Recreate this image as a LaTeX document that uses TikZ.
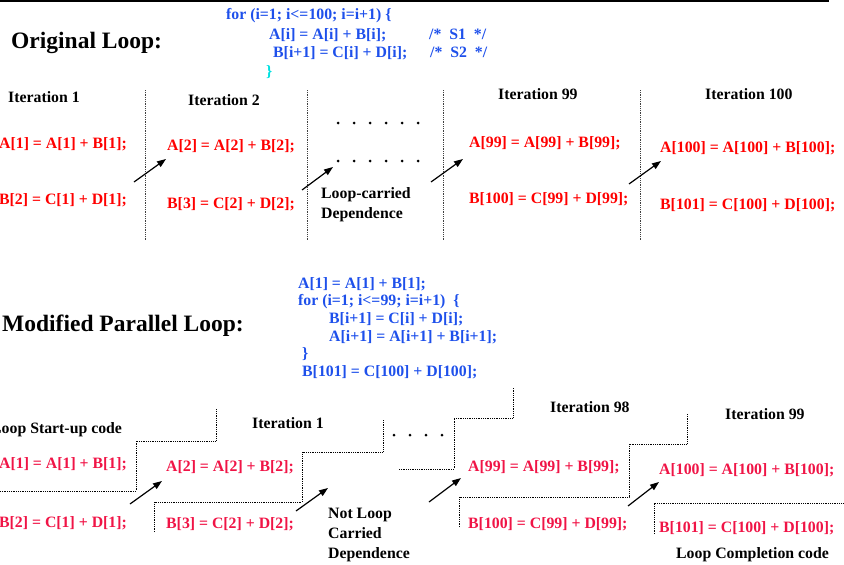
\documentclass[tikz,border=0pt]{standalone}
\usepackage{fontspec}
\setmainfont{Liberation Serif}
\usetikzlibrary{arrows.meta}
\definecolor{codeblue}{RGB}{30,80,235}
\definecolor{codecyan}{RGB}{0,225,225}
\definecolor{stmred}{RGB}{255,0,0}
\definecolor{stmredb}{RGB}{240,20,70}
\begin{document}
\begin{tikzpicture}[x=1pt,y=-1pt,
  lbl/.style={inner sep=0pt, anchor=base west, font=\fontsize{15.8}{18}\selectfont\bfseries},
  titlelbl/.style={lbl, font=\fontsize{23.5}{28}\selectfont\bfseries},
  code/.style={lbl, text=codeblue},
  stm/.style={lbl, text=stmred},
  stmb/.style={lbl, text=stmredb},
  dep/.style={-{Triangle[length=9pt,width=6.5pt]}, line width=1.2pt},
  sepline/.style={line width=0.9pt, dash pattern=on 0.9pt off 0.9pt, draw=black!75},
  stair/.style={line width=0.9pt, dash pattern=on 0.9pt off 0.9pt}]
\useasboundingbox (0,0) rectangle (844,565);
% top rule
\coordinate (tl) at (0,1); \coordinate (tr) at (829,1);
\draw[line width=1.5pt] (tl) -- (tr);

% ---------- Original loop ----------
\node[titlelbl] (orig) at (11,48) {Original Loop:};
\node[code] (c1) at (226,19) {for (i=1; i<=100; i=i+1) \{};
\node[code] (c2) at (269,39) {A[i] = A[i] + B[i];};
\node[code] (c3) at (273,57) {B[i+1] = C[i] + D[i];};
\node[code] (c2c) at (429,39) {/*\ \ S1\ \ */};
\node[code] (c3c) at (430,57) {/*\ \ S2\ \ */};
\node[lbl, text=codecyan] (c4) at (266,76) {\}};

% separators
\foreach \x [count=\i] in {145,307,443,640}{
  \coordinate (st\i) at (\x,90); \coordinate (sb\i) at (\x,240);
  \draw[sepline] (st\i) -- (sb\i);
}

\node[lbl] (it1) at (8,102) {Iteration 1};
\node[lbl] (it2) at (188,105) {Iteration 2};
\node[lbl] (it99) at (498,99) {Iteration 99};
\node[lbl] (it100) at (705,99) {Iteration 100};

\node[stm] (a1) at (-1,148) {A[1] = A[1] + B[1];};
\node[stm] (b1) at (-1,204) {B[2] = C[1] + D[1];};
\node[stm] (a2) at (167,150) {A[2] = A[2] + B[2];};
\node[stm] (b2) at (167,208) {B[3] = C[2] + D[2];};
\node[stm] (a99) at (469,147) {A[99] = A[99] + B[99];};
\node[stm] (b99) at (469,203) {B[100] = C[99] + D[99];};
\node[stm] (a100) at (660,152) {A[100] = A[100] + B[100];};
\node[stm] (b100) at (660,209) {B[101] = C[100] + D[100];};

\foreach \x in {338,354,370,386,402,418}{
  \fill (\x,123) circle (1.5pt);
  \fill (\x,161) circle (1.5pt);
}

\node[lbl] (lc1) at (321,198) {Loop-carried};
\node[lbl] (lc2) at (321,218) {Dependence};

\coordinate (ta1s) at (134,182); \coordinate (ta1e) at (166,159);
\coordinate (ta2s) at (302,190); \coordinate (ta2e) at (333,167);
\coordinate (ta3s) at (431,182); \coordinate (ta3e) at (463,159);
\coordinate (ta4s) at (629,184); \coordinate (ta4e) at (661,161);
\draw[dep] (ta1s) -- (ta1e);
\draw[dep] (ta2s) -- (ta2e);
\draw[dep] (ta3s) -- (ta3e);
\draw[dep] (ta4s) -- (ta4e);

% ---------- Modified loop ----------
\node[titlelbl] (mod) at (2,331) {Modified Parallel Loop:};
\node[code] (m1) at (298,288) {A[1] = A[1] + B[1];};
\node[code] (m2) at (298,305) {for (i=1; i<=99; i=i+1)\ \ \{};
\node[code] (m3) at (329,323) {B[i+1] = C[i] + D[i];};
\node[code] (m4) at (329,341) {A[i+1] = A[i+1] + B[i+1];};
\node[code] (m5) at (302,358) {\}};
\node[code] (m6) at (302,376) {B[101] = C[100] + D[100];};

\node[lbl] (start) at (-9,433) {Loop Start-up code};
\node[lbl] (bit1) at (252,428) {Iteration 1};
\node[lbl] (bit98) at (550,412) {Iteration 98};
\node[lbl] (bit99) at (725,419) {Iteration 99};
\node[lbl] (compl) at (676,558) {Loop Completion code};

\node[stmb] (ba1) at (-1,468) {A[1] = A[1] + B[1];};
\node[stmb] (bb1) at (-1,527) {B[2] = C[1] + D[1];};
\node[stmb] (ba2) at (166,471) {A[2] = A[2] + B[2];};
\node[stmb] (bb2) at (166,528) {B[3] = C[2] + D[2];};
\node[stmb] (ba99) at (468,471) {A[99] = A[99] + B[99];};
\node[stmb] (bb99) at (468,528) {B[100] = C[99] + D[99];};
\node[stmb] (ba100) at (659,474) {A[100] = A[100] + B[100];};
\node[stmb] (bb100) at (659,532) {B[101] = C[100] + D[100];};

\node[lbl] (nl1) at (328,518) {Not Loop};
\node[lbl] (nl2) at (328,538) {Carried};
\node[lbl] (nl3) at (328,558) {Dependence};

% staircases
\draw[stair] (0,491) -- (136,491) -- (136,441) -- (216,441) -- (216,409);
\draw[stair] (154,532) -- (154,502) -- (302,502) -- (302,452) -- (383,452) -- (383,420);
\draw[stair] (399,469) -- (454,469) -- (454,418) -- (513,418) -- (513,387);
\draw[stair] (459,527) -- (459,497) -- (629,497) -- (629,444) -- (687,444) -- (687,414);
\draw[stair] (654,534) -- (654,503) -- (844,503);

\foreach \x in {394,410,426,442}{
  \fill (\x,435) circle (1.5pt);
}

\coordinate (ba1s) at (130,504); \coordinate (ba1e) at (162,481);
\coordinate (ba2s) at (296,511); \coordinate (ba2e) at (328,488);
\coordinate (ba3s) at (429,502); \coordinate (ba3e) at (461,478);
\coordinate (ba4s) at (628,506); \coordinate (ba4e) at (659,482);
\draw[dep] (ba1s) -- (ba1e);
\draw[dep] (ba2s) -- (ba2e);
\draw[dep] (ba3s) -- (ba3e);
\draw[dep] (ba4s) -- (ba4e);
\end{tikzpicture}
\end{document}
